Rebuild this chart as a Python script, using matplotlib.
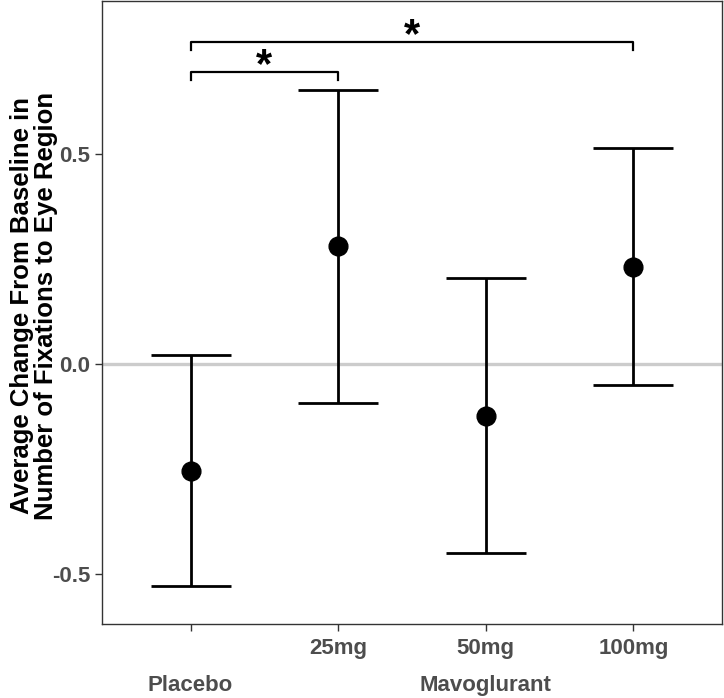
import numpy as np
import matplotlib
matplotlib.use('Agg')
import matplotlib.pyplot as plt

plt.rcParams['font.family'] = ['Liberation Sans', 'DejaVu Sans']

# data
groups = ['Placebo', '25mg', '50mg', '100mg']
tick_labels = ['', '25mg', '50mg', '100mg']
means = [-0.254, 0.280, -0.124, 0.230]
upper = [0.021, 0.653, 0.204, 0.513]
lower = [-0.527, -0.093, -0.449, -0.050]
group_labels = ['Placebo', 'Mavoglurant']
group_label_pos = [1, 3]
# significance brackets: (start, end, height)
brackets = [(1, 2, 0.696), (1, 4, 0.767)]

x = np.arange(1, len(groups) + 1)
means = np.array(means)
upper = np.array(upper)
lower = np.array(lower)

fig = plt.figure(figsize=(7.24, 6.98), dpi=100)
ax = fig.add_axes([102 / 724, 74 / 698, 620 / 724, 623.5 / 698])

ax.axhline(0, color='#cccccc', lw=2.4, zorder=1)
ax.errorbar(x, means, yerr=[means - lower, upper - means], fmt='o', color='black',
            ms=13.5, elinewidth=2.0, capsize=29, capthick=2.0, zorder=3)

tip = 0.019
for x0, x1, h in brackets:
    ax.plot([x0, x0, x1, x1], [h - tip, h, h, h - tip], color='black', lw=1.6, zorder=3)
    ax.text((x0 + x1) / 2, h - 0.012, '*', ha='center', va='baseline', fontsize=30,
            fontweight='bold')

ax.set_xlim(0.4, 4.6)
ax.set_ylim(-0.618, 0.865)
ax.set_xticks(x)
ax.set_xticklabels(tick_labels)
ax.set_yticks([-0.5, 0.0, 0.5])
ax.set_yticklabels(['-0.5', '0.0', '0.5'])
ax.tick_params(axis='both', colors='#333333', labelcolor='#4d4d4d', length=5, width=1,
               labelsize=16)
ax.tick_params(axis='x', pad=5)
for lab in ax.get_xticklabels() + ax.get_yticklabels():
    lab.set_fontweight('bold')
for sp in ax.spines.values():
    sp.set_color('#333333')
    sp.set_linewidth(1)

for pos, name in zip(group_label_pos, group_labels):
    ax.text(pos, -0.098, name, transform=ax.get_xaxis_transform(), ha='center', va='center',
            fontsize=16, fontweight='bold', color='#4d4d4d')

fig.text(34 / 724, 1 - 306 / 698,
         'Average Change From Baseline in\nNumber of Fixations to Eye Region',
         rotation=90, ha='center', va='center', fontsize=18.5, fontweight='bold',
         color='black', linespacing=1.0)

fig.savefig('out.png', dpi=100)
